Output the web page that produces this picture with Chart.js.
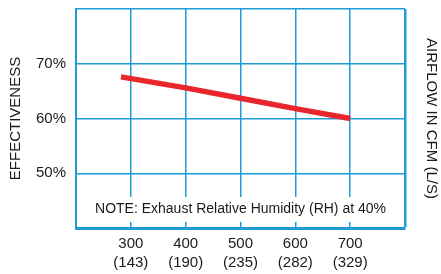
<!DOCTYPE html>
<html><head><meta charset="utf-8">
<script src="https://cdn.jsdelivr.net/npm/chart.js@4.4.1/dist/chart.umd.min.js"></script>
<style>html,body{margin:0;padding:0;background:#fff}#wrap{width:441px;height:274px}</style>
</head><body><div id="wrap"><canvas id="c" width="441" height="274"></canvas></div>
<script>
const airflowCfm = [282, 400, 500, 600, 700];
const effectiveness = [67.6, 65.6, 63.7, 61.8, 60.0];
const xTickCfm = [300, 400, 500, 600, 700];
const xTickLps = [143, 190, 235, 282, 329];
const yTickValues = [50, 60, 70];
const noteText = 'NOTE: Exhaust Relative Humidity (RH) at 40%';
const leftTitle = 'EFFECTIVENESS';
const rightTitle = 'AIRFLOW IN CFM (L/S)';

const BLUE = '#1f9bd6';
const RED = '#e8262b';
const TXT = '#1a1a1a';
const FONT = 'Liberation Sans, Arial, sans-serif';

const notePlugin = {
  id: 'note',
  beforeDatasetsDraw(chart) {
    const {ctx, chartArea} = chart;
    const cy = chartArea.bottom - 19;
    ctx.save();
    ctx.fillStyle = '#fff';
    ctx.fillRect(chartArea.left + 12, cy - 12, chartArea.right - chartArea.left - 24, 25);
    ctx.fillStyle = TXT;
    ctx.font = '14px ' + FONT;
    ctx.textAlign = 'center';
    ctx.textBaseline = 'middle';
    ctx.fillText(noteText, (chartArea.left + chartArea.right) / 2, cy);
    ctx.restore();
  }
};

new Chart(document.getElementById('c'), {
  type: 'line',
  data: {
    datasets: [{
      data: airflowCfm.map((x, i) => ({x, y: effectiveness[i]})),
      borderColor: RED,
      borderWidth: 5.5,
      pointRadius: 0,
      tension: 0,
      borderCapStyle: 'butt'
    }]
  },
  options: {
    responsive: false,
    animation: false,
    devicePixelRatio: 1,
    layout: {padding: {left: 7, right: 0, top: 9, bottom: -5}},
    plugins: {legend: {display: false}, tooltip: {enabled: false}},
    scales: {
      x: {
        type: 'linear', min: 200, max: 800,
        border: {color: BLUE, width: 3},
        grid: {color: BLUE, lineWidth: c => (c.tick && c.tick.value === 800 ? 2.5 : 1.5), drawTicks: false},
        ticks: {
          stepSize: 100, padding: 6, color: TXT, maxRotation: 0, autoSkip: false,
          font: {family: FONT, size: 15, lineHeight: 1.3},
          callback: v => { const i = xTickCfm.indexOf(v); return i < 0 ? '' : [String(xTickCfm[i]), '(' + xTickLps[i] + ')']; }
        }
      },
      y: {
        type: 'linear', min: 40, max: 80,
        border: {color: BLUE, width: 2},
        grid: {color: BLUE, lineWidth: 1.5, drawTicks: false},
        afterFit: s => { s.paddingTop = 0; },
        ticks: {
          stepSize: 10, padding: 10, color: TXT, autoSkip: false,
          font: {family: FONT, size: 15},
          callback: v => yTickValues.includes(v) ? v + '%' : ''
        },
        title: {display: true, text: leftTitle, color: TXT, font: {family: FONT, size: 15}, padding: {top: 0, bottom: 1}}
      },
      y2: {
        type: 'linear', position: 'right', min: 40, max: 80,
        border: {display: false},
        grid: {display: false, drawTicks: false},
        afterFit: s => { s.paddingTop = 0; },
        ticks: {display: false},
        title: {display: true, text: rightTitle, color: TXT, font: {family: FONT, size: 15}, padding: {top: 1, bottom: 17}}
      }
    }
  },
  plugins: [notePlugin]
});
</script></body></html>
